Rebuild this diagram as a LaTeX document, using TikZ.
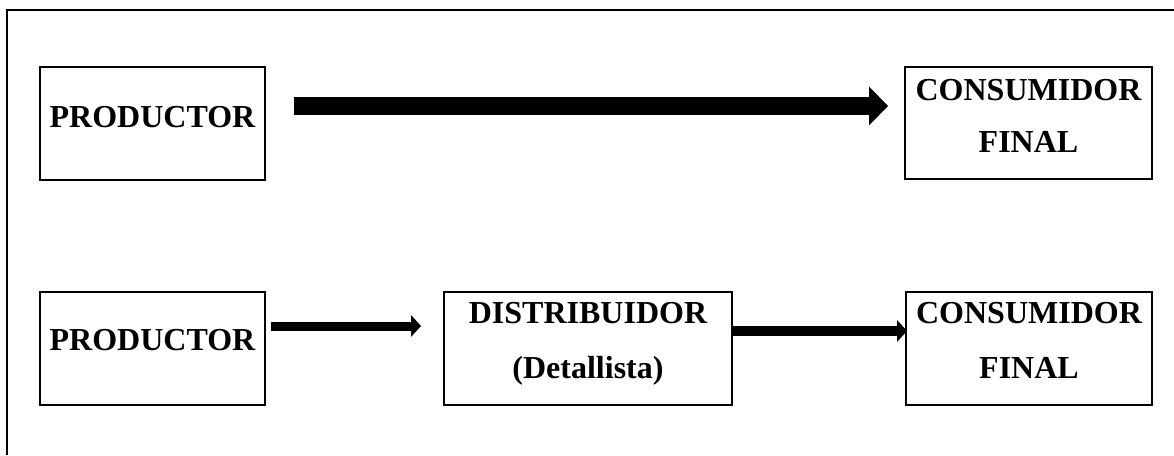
\documentclass[tikz,border=0pt]{standalone}
\usepackage{fontspec}
\setmainfont{Liberation Serif}
\usetikzlibrary{arrows.meta,calc}

\tikzset{
  box/.style={draw, line width=2pt, inner sep=0pt, minimum height=113pt},
  lbl/.style={anchor=base, inner sep=0pt,
    font=\bfseries\fontsize{32}{40}\selectfont},
  bigflow/.style={line width=18pt,
    -{Triangle[length=19pt,width=39pt,line width=0pt]}},
  smallflow/.style={line width=#1,
    -{Triangle[length=10pt,width=22pt,line width=0pt]}},
}

\begin{document}
\begin{tikzpicture}[x=1pt,y=-1pt]
  \useasboundingbox (0,0) rectangle (1174,455);

  % outer frame (open towards the right and bottom edges)
  \coordinate (fa) at (7,455);
  \coordinate (fb) at (7,10);
  \coordinate (fc) at (1174,10);
  \draw[line width=2pt] (fa) -- (fb) -- (fc);

  % direct channel
  \node[box, minimum width=225pt] (p1) at (152.5,123.5) {};
  \node[box, minimum width=247pt, minimum height=112pt] (c1) at (1028.5,123) {};
  \node[lbl] (p1t) at ($(p1.center)+(0,3.5)$) {PRODUCTOR};
  \node[lbl] (c1a) at ($(c1.center)+(0,-23)$) {CONSUMIDOR};
  \node[lbl] (c1b) at ($(c1.center)+(0,29)$) {FINAL};

  \draw[bigflow, shorten <=28pt, shorten >=16pt]
    ([yshift=17.5pt]p1.east) -- ([yshift=17.5pt]p1.east -| c1.west);

  % channel through a retailer
  \node[box, minimum width=225pt] (p2) at (152.5,348.5) {};
  \node[box, minimum width=288pt] (d2) at (588,348.5) {};
  \node[box, minimum width=246pt] (c2) at (1029,348.5) {};
  \node[lbl] (p2t) at ($(p2.center)+(0,1.5)$) {PRODUCTOR};
  \node[lbl] (d2a) at ($(d2.center)+(0,-25.5)$) {DISTRIBUIDOR};
  \node[lbl] (d2b) at ($(d2.center)+(0,29.5)$) {(Detallista)};
  \node[lbl] (c2a) at ($(c2.center)+(0,-25.5)$) {CONSUMIDOR};
  \node[lbl] (c2b) at ($(c2.center)+(0,29.5)$) {FINAL};

  \draw[smallflow=9pt, shorten <=5pt, shorten >=22pt]
    ([yshift=22.5pt]p2.east) -- ([yshift=22.5pt]p2.east -| d2.west);
  \draw[smallflow=10pt, shorten >=-2pt]
    ([yshift=17.5pt]d2.east) -- ([yshift=17.5pt]d2.east -| c2.west);
\end{tikzpicture}
\end{document}
